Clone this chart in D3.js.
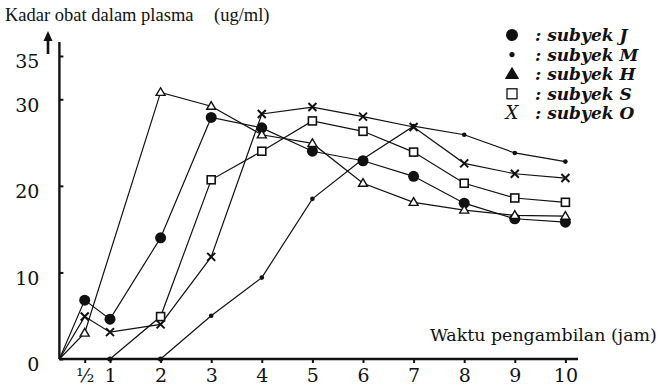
<!DOCTYPE html>
<html>
<head>
<meta charset="utf-8">
<script src="https://cdn.jsdelivr.net/npm/d3@7"></script>
<style>
  html, body { margin: 0; padding: 0; background: #fff; }
  svg { display: block; }
  text { fill: #111; }
</style>
</head>
<body>
<svg id="chart" width="663" height="385"></svg>
<script>
// Sampling times (hours) and plasma drug concentration (ug/ml) per subject
const hours = [0, 0.5, 1, 2, 3, 4, 5, 6, 7, 8, 9, 10];
const subjekJ = [0, 6.8, 4.6, 14.0, 27.9, 26.7, 24.0, 22.9, 21.1, 18.0, 16.2, 15.8];
const subjekM = [null, null, null, 0, 5.0, 9.4, 18.5, 23.1, 26.9, 25.9, 23.8, 22.8];
const subjekH = [0, 3.0, null, 30.8, 29.2, 25.9, 24.9, 20.3, 18.1, 17.2, 16.6, 16.5];
const subjekS = [null, null, 0, 4.9, 20.7, 24.0, 27.5, 26.3, 23.9, 20.3, 18.6, 18.1];
const subjekO = [0, 4.9, 3.1, 4.0, 11.8, 28.3, 29.1, 28.0, 26.8, 22.6, 21.4, 20.9];

const seriesNames = ["subyek J", "subyek M", "subyek H", "subyek S", "subyek O"];
const seriesValues = [subjekJ, subjekM, subjekH, subjekS, subjekO];
const seriesMarks = ["bigdot", "dot", "triangle", "square", "cross"];

const xTicks = [0.5, 1, 2, 3, 4, 5, 6, 7, 8, 9, 10];
const xTickLabels = ["½", "1", "2", "3", "4", "5", "6", "7", "8", "9", "10"];
const yTicks = [0, 10, 20, 30, 35];

const titleText = "Kadar obat dalam plasma";
const unitText = "(ug/ml)";
const xTitle = "Waktu pengambilan (jam)";

const SERIF_WIDE = "'DejaVu Serif', serif";
const SERIF_TIMES = "'Liberation Serif', 'Times New Roman', serif";

const svg = d3.select("#chart");
const x = d3.scaleLinear().domain([0, 10]).range([59.4, 565.4]);
const y = d3.scaleLinear().domain([0, 35]).range([359, 56]);

// ---- axes ----
const xAxis = d3.axisBottom(x)
  .tickValues(xTicks)
  .tickFormat((d, i) => xTickLabels[i])
  .tickSize(4)
  .tickPadding(6);
const gx = svg.append("g").attr("transform", `translate(0,${y(0)})`).call(xAxis);
gx.select(".domain").remove();
gx.selectAll(".tick line").attr("stroke", "#111").attr("stroke-width", 2);
gx.selectAll(".tick text").style("font-size", "19px").style("font-family", SERIF_WIDE).attr("fill", "#111");
svg.append("line")
  .attr("x1", x(0)).attr("x2", 578)
  .attr("y1", y(0)).attr("y2", y(0))
  .attr("stroke", "#111").attr("stroke-width", 2.4);

const yAxis = d3.axisLeft(y)
  .tickValues(yTicks)
  .tickSize(-4)
  .tickPadding(20);
const gy = svg.append("g").attr("transform", `translate(${x(0)},0)`).call(yAxis);
gy.select(".domain").remove();
gy.selectAll(".tick line").attr("stroke", "#111").attr("stroke-width", 2);
gy.selectAll(".tick text").style("font-size", "19px").style("font-family", SERIF_WIDE)
  .attr("fill", "#111").attr("dy", "0.62em");
svg.append("line")
  .attr("x1", x(0)).attr("x2", x(0))
  .attr("y1", y(0)).attr("y2", 42)
  .attr("stroke", "#111").attr("stroke-width", 2.4);

// upward arrow beside the value axis
svg.append("line").attr("x1", 48).attr("x2", 48).attr("y1", 38).attr("y2", 54)
  .attr("stroke", "#111").attr("stroke-width", 2.6);
svg.append("path").attr("d", "M48,31 L52.5,41 L43.5,41 Z").attr("fill", "#111");

// ---- titles ----
svg.append("text").attr("x", 5).attr("y", 21)
  .style("font-family", SERIF_TIMES).style("font-size", "18.5px").text(titleText);
svg.append("text").attr("x", 214).attr("y", 21)
  .style("font-family", SERIF_TIMES).style("font-size", "18.5px").text(unitText);
svg.append("text").attr("x", 430).attr("y", 341)
  .style("font-family", SERIF_WIDE).style("font-size", "17.4px").text(xTitle);

// ---- series lines ----
const line = d3.line().x(d => x(d.t)).y(d => y(d.v));
const series = seriesValues.map((vals, k) => ({
  name: seriesNames[k],
  mark: seriesMarks[k],
  points: hours.map((t, i) => ({ t, v: vals[i] })).filter(d => d.v !== null)
}));

svg.append("g").selectAll("path").data(series).join("path")
  .attr("d", d => line(d.points))
  .attr("fill", "none").attr("stroke", "#111").attr("stroke-width", 1.2);

// ---- markers ----
function drawMark(g, type, cx, cy, legend) {
  if (type === "bigdot") {
    g.append("circle").attr("cx", cx).attr("cy", cy).attr("r", legend ? 6 : 5.5).attr("fill", "#111");
  } else if (type === "dot") {
    g.append("circle").attr("cx", cx).attr("cy", cy).attr("r", legend ? 2.6 : 2.3).attr("fill", "#111");
  } else if (type === "triangle") {
    const s = legend ? 12 : 9;
    const h = s * 0.85;
    g.append("path")
      .attr("d", `M${cx},${cy - h * 0.6} L${cx + s / 2},${cy + h * 0.4} L${cx - s / 2},${cy + h * 0.4} Z`)
      .attr("fill", legend ? "#111" : "#fff").attr("stroke", "#111").attr("stroke-width", 1.4);
  } else if (type === "square") {
    const s = legend ? 10 : 8;
    g.append("rect").attr("x", cx - s / 2).attr("y", cy - s / 2).attr("width", s).attr("height", s)
      .attr("fill", "#fff").attr("stroke", "#111").attr("stroke-width", legend ? 1.3 : 1.6);
  } else if (type === "cross") {
    const s = 4;
    g.append("path")
      .attr("d", `M${cx - s},${cy - s} L${cx + s},${cy + s} M${cx + s},${cy - s} L${cx - s},${cy + s}`)
      .attr("stroke", "#111").attr("stroke-width", 2);
  }
}

const markLayer = svg.append("g");
series.forEach(s => {
  s.points.filter(d => d.v > 0).forEach(d => drawMark(markLayer, s.mark, x(d.t), y(d.v), false));
});
// zero readings sit on the time axis as dots
series.forEach(s => {
  s.points.filter(d => d.t > 0 && d.v === 0)
    .forEach(d => markLayer.append("circle").attr("cx", x(d.t)).attr("cy", y(0)).attr("r", 2.6).attr("fill", "#111"));
});

// ---- legend ----
const legend = svg.append("g");
series.forEach((s, i) => {
  const ly = 35 + i * 19.6;
  if (s.mark === "cross") {
    legend.append("text").attr("x", 512).attr("y", ly + 6).attr("text-anchor", "middle")
      .style("font-family", SERIF_WIDE).style("font-size", "18px").style("font-style", "italic").text("X");
  } else {
    drawMark(legend, s.mark, 512, ly, true);
  }
  legend.append("text").attr("x", 535).attr("y", ly + 6)
    .style("font-family", SERIF_WIDE).style("font-size", "17px")
    .style("font-style", "italic").style("font-weight", "bold")
    .text(": " + s.name);
});
</script>
</body>
</html>
